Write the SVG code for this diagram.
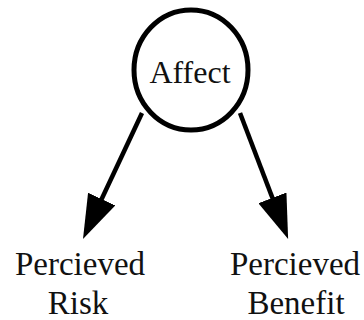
<svg xmlns="http://www.w3.org/2000/svg" width="364" height="320" viewBox="0 0 364 320">
<style>
.edge{stroke:#000;stroke-width:4.5;fill:none}
</style>
<defs>
<marker id="arr" viewBox="0 0 44 30" markerWidth="44" markerHeight="30" refX="19" refY="15" orient="auto" markerUnits="userSpaceOnUse">
<path d="M0,0 L44,15 L0,30 z" fill="#000"/>
</marker>
</defs>
<rect width="364" height="320" fill="#fff"/>
<g id="connectors">
<line class="edge" x1="142" y1="113" x2="93.6" y2="216.3" marker-end="url(#arr)"/>
<line class="edge" x1="240" y1="113" x2="279.2" y2="215.6" marker-end="url(#arr)"/>
</g>
<g id="affect">
<ellipse cx="191" cy="70" rx="57" ry="60" fill="#fff" stroke="#000" stroke-width="5"/>
<text x="190" y="83" font-family="Liberation Serif" font-size="32" fill="#111" text-anchor="middle">Affect</text>
</g>
<g id="risk" font-family="Liberation Serif" font-size="33" fill="#111" text-anchor="middle">
<text x="80" y="275">Percieved</text>
<text x="78" y="314">Risk</text>
</g>
<g id="benefit" font-family="Liberation Serif" font-size="33" fill="#111" text-anchor="middle">
<text x="295" y="275">Percieved</text>
<text x="296" y="314">Benefit</text>
</g>
</svg>
